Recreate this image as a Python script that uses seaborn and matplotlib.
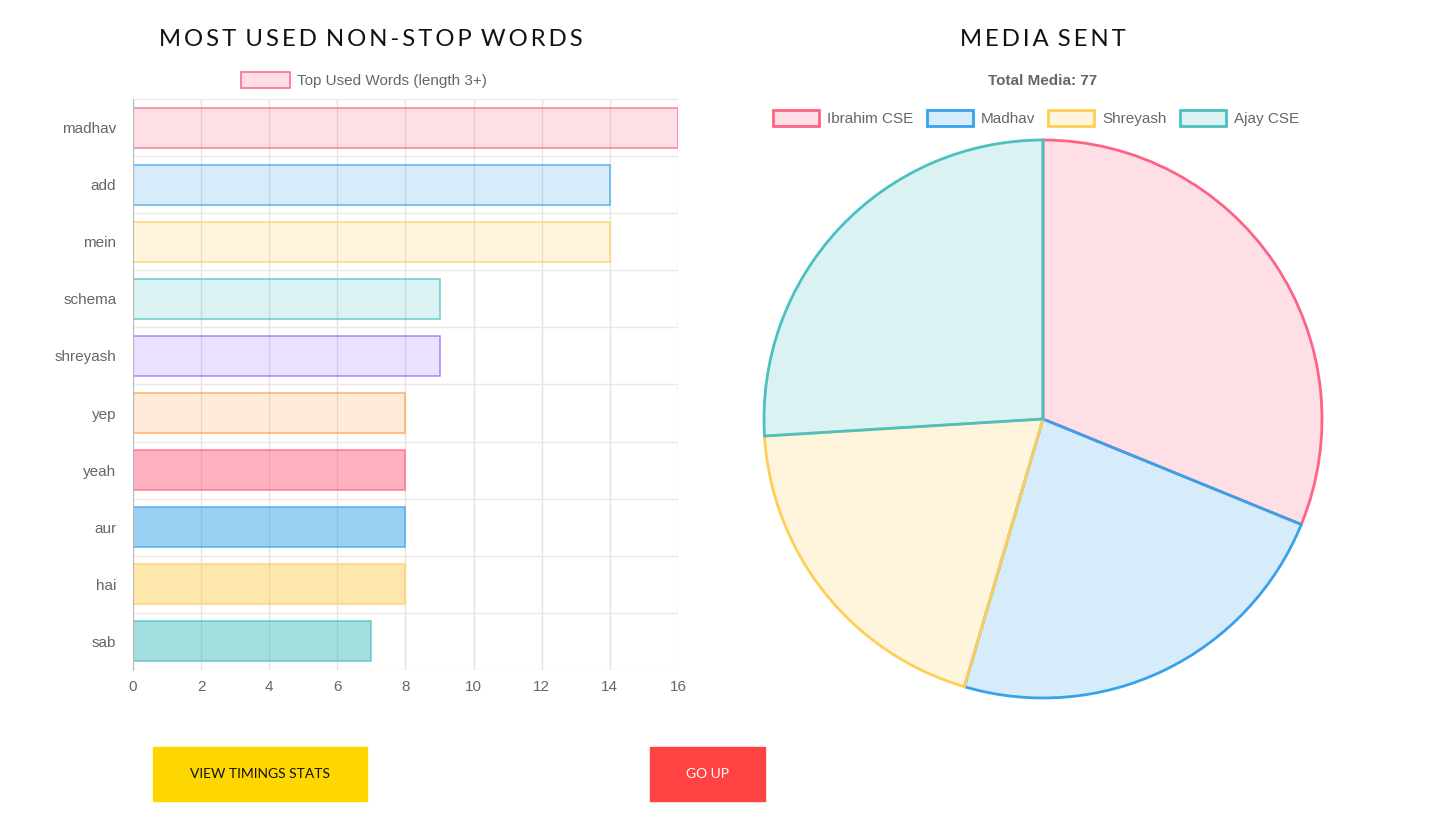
import matplotlib
matplotlib.use("Agg")
import matplotlib.pyplot as plt
from matplotlib.patches import Rectangle, Patch
import seaborn as sns

# word counts (bar chart)
words = ["madhav", "add", "mein", "schema", "shreyash", "yep", "yeah", "aur", "hai", "sab"]
word_counts = [16, 14, 14, 9, 9, 8, 8, 8, 8, 7]

# media sent per person (pie chart)
people = ["Ibrahim CSE", "Madhav", "Shreyash", "Ajay CSE"]
media_counts = [24, 18, 15, 20]

base = [(255, 99, 132), (54, 162, 235), (255, 206, 86), (75, 192, 192),
        (153, 102, 255), (255, 159, 64)]
base = [(r / 255, g / 255, b / 255) for r, g, b in base]

bar_rgb = [base[i % 6] for i in range(len(words))]
bar_alpha = [0.2] * 6 + [0.5] * 4

sns.set_style("white")
plt.rcParams["font.family"] = ["Liberation Sans", "DejaVu Sans"]

fig = plt.figure(figsize=(14.35, 8.21), dpi=100)
W, H = 1435, 821


def fx(px):
    return px / W


def fy(py):
    return 1 - py / H


def spaced(s):
    return "\u2009".join(s).replace("\u2009 \u2009", "\u2009 ")


# ---- bar chart ----
ax = fig.add_axes([fx(133), fy(670), fx(678) - fx(133), fy(99) - fy(670)])
fills = {w: (*c, a) for w, c, a in zip(words, bar_rgb, bar_alpha)}
sns.barplot(x=word_counts, y=words, hue=words, palette=fills, legend=False,
            orient="h", width=0.7, saturation=1, ax=ax)
for cont, c in zip(ax.containers, bar_rgb):
    for p in cont:
        p.set_edgecolor((*c, 0.8))
        p.set_linewidth(1.1)

ax.set_xlim(0, 16)
ax.set_ylim(len(words) - 0.5, -0.5)
ax.set_xticks(range(0, 17, 2))
ax.set_yticks(range(len(words)))
ax.set_yticks([i + 0.5 for i in range(-1, len(words))], minor=True)
ax.grid(True, axis="x", color="#e3e3e3", lw=1)
ax.grid(True, axis="y", which="minor", color="#e9e9e9", lw=1)
ax.tick_params(axis="y", which="major", length=0, pad=12, labelsize=11, labelcolor="#666666")
ax.tick_params(axis="y", which="minor", length=13, color="#e9e9e9", width=1)
ax.tick_params(axis="x", length=3, color="#e3e3e3", pad=4, labelsize=11, labelcolor="#666666")
ax.set_xlabel("")
ax.set_ylabel("")
for side in ["top", "right", "bottom"]:
    ax.spines[side].set_visible(False)
ax.spines["left"].set_color("#bbbbbb")
ax.set_axisbelow(True)

fig.legend(handles=[Patch(facecolor=(*base[0], 0.2), edgecolor=(*base[0], 0.85), lw=1.3)],
           labels=["Top Used Words (length 3+)"], loc="center",
           bbox_to_anchor=(fx(364), fy(80)), frameon=False, fontsize=11,
           labelcolor="#666666", handlelength=3.2, handleheight=1.2, handletextpad=0.5)

fig.text(fx(371), fy(40), spaced("MOST USED NON-STOP WORDS"), ha="center", va="center",
         fontsize=17.2, color="#111111", family=["Lato", "DejaVu Sans"])

# ---- pie chart ----
r = 279
axp = fig.add_axes([fx(1043 - r), fy(419 + r), fx(2 * r), (2 * r) / H])
wedges, _ = axp.pie(media_counts, startangle=90, counterclock=False,
                    colors=[(*c, 0.2) for c in base[:4]],
                    wedgeprops=dict(linewidth=2))
for wdg, c in zip(wedges, base[:4]):
    wdg.set_edgecolor(c)
    wdg.set_clip_on(False)
axp.set_xlim(-1, 1)
axp.set_ylim(-1, 1)
axp.set_aspect("equal")

fig.text(fx(1043), fy(40), spaced("MEDIA SENT"), ha="center", va="center",
         fontsize=17.2, color="#111111", family=["Lato", "DejaVu Sans"])
fig.text(fx(1043), fy(81), "Total Media: %d" % sum(media_counts), ha="center", va="center",
         fontsize=11, color="#666666", fontweight="bold")
fig.legend(handles=[Patch(facecolor=(*c, 0.2), edgecolor=c, lw=2) for c in base[:4]],
           labels=people, loc="center", ncol=4, bbox_to_anchor=(fx(1036), fy(118)),
           frameon=False, fontsize=11, labelcolor="#666666", handlelength=3.0,
           handleheight=1.2, handletextpad=0.5, columnspacing=0.9)

# ---- buttons ----
fig.patches.append(Rectangle((fx(153), fy(801)), fx(367) - fx(153), fy(747) - fy(801),
                             transform=fig.transFigure, color="#FFD700", zorder=0))
fig.text(fx(260), fy(774), "VIEW TIMINGS STATS", ha="center", va="center",
         fontsize=10, color="#111111", family=["Lato", "DejaVu Sans"])
fig.patches.append(Rectangle((fx(650), fy(801)), fx(765) - fx(650), fy(747) - fy(801),
                             transform=fig.transFigure, color="#FF4343", zorder=0))
fig.text(fx(707.5), fy(774), "GO UP", ha="center", va="center",
         fontsize=10, color="white", family=["Lato", "DejaVu Sans"])

fig.savefig("out.png", dpi=100, facecolor="white")
